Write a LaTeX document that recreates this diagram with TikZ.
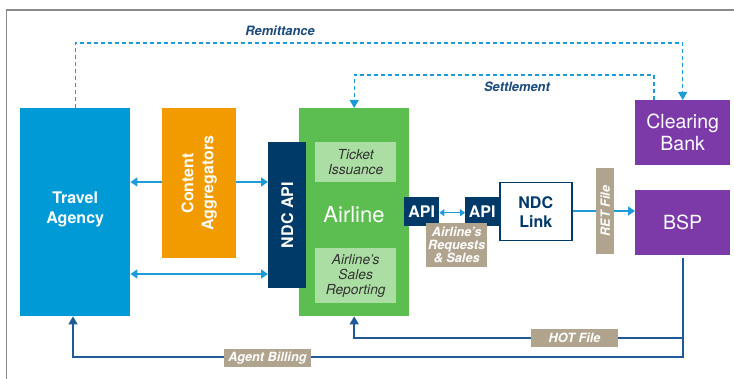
\documentclass[tikz,border=0pt]{standalone}
\usepackage{fontspec}
\setmainfont{TeX Gyre Heros}
\usetikzlibrary{arrows.meta,calc}
\definecolor{tablue}{HTML}{009BD6}
\definecolor{aggor}{HTML}{F29B00}
\definecolor{navy}{HTML}{003A68}
\definecolor{airgreen}{HTML}{5CBE50}
\definecolor{lightgreen}{HTML}{ABDEA3}
\definecolor{tanc}{HTML}{B1A48E}
\definecolor{purp}{HTML}{7B3AA8}
\definecolor{arrowblue}{HTML}{1C9BD7}
\definecolor{linenavy}{HTML}{1F5A96}
\definecolor{labelnavy}{HTML}{1B4A7A}
\definecolor{framegray}{HTML}{8A8A8A}
\begin{document}
\begin{tikzpicture}[x=1pt,y=-1pt,
  box/.style={draw=none, inner sep=0pt, anchor=north west, align=center, text=white},
  boldtxt/.style={font=\fontsize{16}{20}\selectfont\bfseries, text=white, align=center, inner sep=0pt},
  bigtxt/.style={font=\fontsize{19.5}{22}\selectfont, text=white, align=center, inner sep=0pt},
  subtxt/.style={font=\fontsize{13.8}{15}\selectfont\itshape, text=black!80, align=center},
  tanlabel/.style={fill=tanc, inner sep=0pt, text=white, align=center, font=\fontsize{12.7}{13}\selectfont\bfseries\itshape},
  flowlabel/.style={text=labelnavy, inner sep=0pt, font=\fontsize{12.9}{14}\selectfont\bfseries\itshape},
  bluearrow/.style={draw=arrowblue, line width=1.5pt, -{Triangle[width=9pt,length=7pt]}},
  dblblue/.style={draw=arrowblue, line width=1.5pt, {Triangle[width=9pt,length=7pt]}-{Triangle[width=9pt,length=7pt]}},
  dashblue/.style={draw=arrowblue, line width=1.3pt, dash pattern=on 4pt off 3pt, -{Triangle[width=9pt,length=8pt]}},
  navyline/.style={draw=linenavy, line width=1.6pt},
  navyarrow/.style={navyline, -{Triangle[width=9pt,length=8pt]}}
]
\useasboundingbox (0,0) rectangle (734,379);
% frame
\draw[framegray, line width=1.2pt] (6.5,379) -- (6.5,10) -- (734,10);

% Travel agency
\node[box, fill=tablue, minimum width=110pt, minimum height=208pt] (ta) at (20,108) {};
\node[boldtxt] (tatxt) at ($(ta.center)+(0,-3)$) {Travel\\Agency};

% Content aggregators
\node[box, fill=aggor, minimum width=74pt, minimum height=150pt] (ca) at (162,108) {};

% Airline
\node[box, fill=airgreen, minimum width=110pt, minimum height=208pt] (air) at (299,108) {};
\node[bigtxt, font=\fontsize{22}{24}\selectfont] (airtxt) at (354,215) {Airline};
\node[box, fill=lightgreen, minimum width=81pt, minimum height=40pt, subtxt] (tick) at (315,142) {Ticket\\Issuance};
\node[box, fill=lightgreen, minimum width=81pt, minimum height=55pt, subtxt] (rep) at (315,248) {Airline’s\\Sales\\Reporting};

% NDC API
\node[box, fill=navy, minimum width=38pt, minimum height=146pt] (ndc) at (268,142) {};
\node[boldtxt, rotate=90] (ndctxt) at (ndc.center) {NDC API};

% Connectors TA <-> CA <-> NDC
\draw[bluearrow] (ca.west |- 0,182) -- (ta.east |- 0,182);
\draw[bluearrow] (ca.east |- 0,182) -- (ndc.west |- 0,182);
\draw[dblblue] (ta.east |- 0,274) -- (ndc.west |- 0,274);
\node[boldtxt, rotate=90] (catxt) at (ca.center) {Content\\Aggregators};

% APIs
\node[box, fill=navy, minimum width=35pt, minimum height=29pt, boldtxt] (api1) at (404,197) {API};
\node[box, fill=navy, minimum width=34pt, minimum height=29pt, boldtxt] (api2) at (465,197) {API};
\draw[draw=arrowblue, line width=1.5pt, {Triangle[width=7pt,length=5pt]}-{Triangle[width=7pt,length=5pt]}] ($(api1.east)+(0,1)$) -- ($(api2.west)+(0,1)$);
\node[box, tanlabel, minimum width=61pt, minimum height=44pt] (req) at (426,223) {Airline’s\\Requests\\\& Sales};

% NDC Link
\node[box, draw=navy, line width=1.5pt, fill=white, minimum width=72pt, minimum height=58pt, text=navy, font=\fontsize{16}{19}\selectfont\bfseries] (link) at (499,182) {NDC\\Link};

% Clearing bank, BSP
\node[box, fill=purp, minimum width=95pt, minimum height=65pt, bigtxt] (cb) at (635,100) {Clearing\\Bank};
\node[box, fill=purp, minimum width=95pt, minimum height=65pt, bigtxt] (bsp) at (635,190) {BSP};

% RET file
\draw[bluearrow] (link.east |- 0,211) -- (bsp.west |- 0,211);
\node[box, fill=tanc, minimum width=18pt, minimum height=86pt] (ret) at (596,168) {};
\node[tanlabel, fill=none, rotate=90] (rettxt) at (ret.center) {RET File};

% Remittance and settlement
\draw[dashblue] (ta.north) -- (ta.north |- 0,43) -| (cb.north);
\node[flowlabel] (remit) at (280,31) {Remittance};
\draw[dashblue] ($(cb.north west)+(19,0)$) -- ($(cb.north west)+(19,-25)$) -| (air.north);
\node[flowlabel] (settle) at (517,87) {Settlement};

% Agent billing, HOT file
\coordinate (bspout) at ($(bsp.south)+(0,3)$);
\coordinate (hotc) at (bsp.south |- 0,338);
\coordinate (abc) at (bsp.south |- 0,357);
\draw[navyarrow] (bspout) -- (abc) -| ($(ta.south west)+(53,0)$);
\draw[navyarrow] (hotc) -| (air.south);
\node[tanlabel, minimum width=87pt, minimum height=18pt] (ab) at (267.5,358) {Agent Billing};
\node[tanlabel, minimum width=87pt, minimum height=18pt] (hot) at (574.5,338) {HOT File};
\end{tikzpicture}
\end{document}
